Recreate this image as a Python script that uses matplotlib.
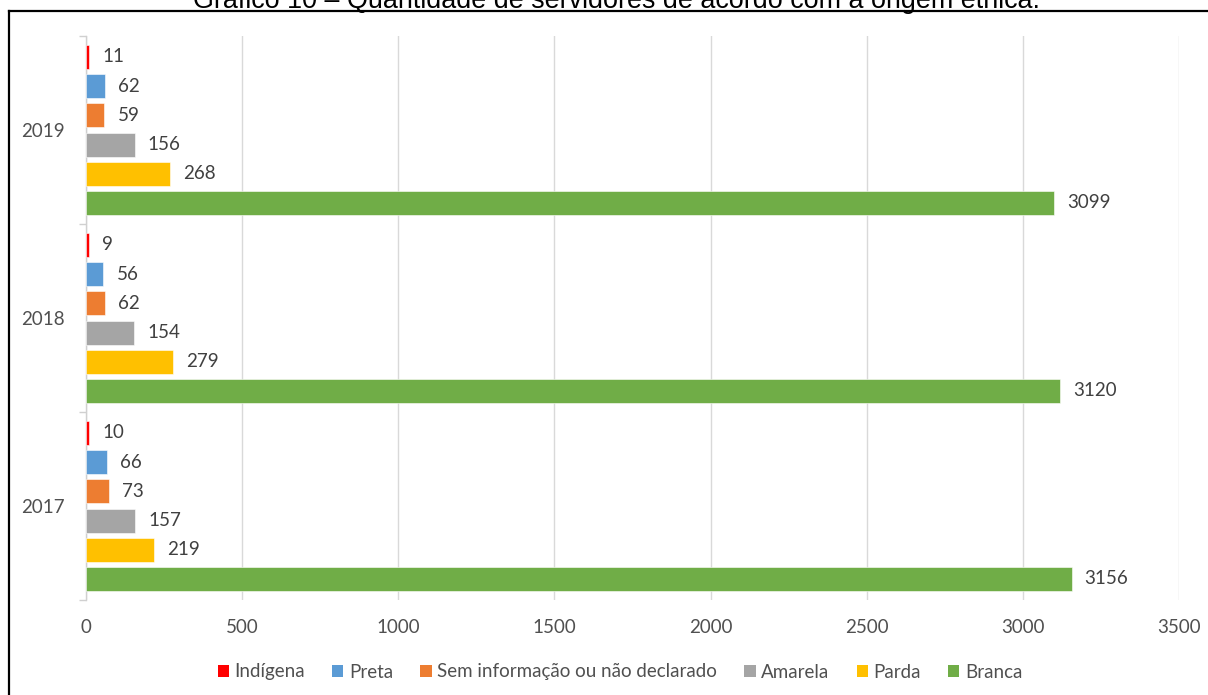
import matplotlib
matplotlib.use("Agg")
import matplotlib.pyplot as plt
from matplotlib.lines import Line2D
from matplotlib.patches import Patch
import numpy as np

years = ["2017", "2018", "2019"]
groups = ["Indígena", "Preta", "Sem informação ou não declarado", "Amarela", "Parda", "Branca"]
colors = ["#FF0000", "#5B9BD5", "#ED7D31", "#A5A5A5", "#FFC000", "#70AD47"]
indigena = [10, 9, 11]
preta = [66, 56, 62]
sem_info = [73, 62, 59]
amarela = [157, 154, 156]
parda = [219, 279, 268]
branca = [3156, 3120, 3099]
series = [indigena, preta, sem_info, amarela, parda, branca]
x_ticks = [0, 500, 1000, 1500, 2000, 2500, 3000, 3500]

W, H = 1208, 695
fig = plt.figure(figsize=(W / 100, H / 100), dpi=100)
ax = fig.add_axes([86 / W, 1 - 600 / H, (1179 - 86) / W, (600 - 36) / H])

font = "Lato"
label_color = "#505050"
fs = 13.5
slot = 29.2 / 188
bar_h = 24 / 188
ypos = np.arange(len(years))

for k, (name, vals, col) in enumerate(zip(groups, series, colors)):
    y = ypos + (2.5 - k) * slot
    ax.barh(y, vals, height=bar_h, color=col, edgecolor="white", linewidth=0.4, zorder=3)
    for yi, v in zip(y, vals):
        ax.annotate(str(v), (v, yi), xytext=(13, 0), textcoords="offset pixels",
                    va="center", ha="left", fontsize=fs, family=font, color="#404040")

ax.set_xlim(0, 3500)
ax.set_ylim(-0.5, 2.5)
ax.set_xticks(x_ticks)
ax.set_xticklabels([str(t) for t in x_ticks], family=font, fontsize=fs, color=label_color)
ax.tick_params(axis="x", length=0, pad=14)
ax.grid(axis="x", color="#d9d9d9", linewidth=1.0, zorder=0)

ax.set_yticks([-0.5, 0.5, 1.5, 2.5])
ax.set_yticklabels([])
ax.set_yticks(ypos, minor=True)
ax.set_yticklabels(years, minor=True, family=font, fontsize=fs, color=label_color)
ax.tick_params(axis="y", which="major", length=5, color="#d0d0d0", width=1)
ax.tick_params(axis="y", which="minor", length=0, pad=15)

for s in ["top", "right", "bottom"]:
    ax.spines[s].set_visible(False)
ax.spines["left"].set_color("#d0d0d0")
ax.spines["left"].set_linewidth(1.0)

handles = [Patch(facecolor=c, edgecolor="none") for c in colors]
leg = fig.legend(handles, groups, loc="center", bbox_to_anchor=(620 / W, 1 - 672 / H),
                 ncol=6, frameon=False, handlelength=0.6, handleheight=0.6,
                 handletextpad=0.3, columnspacing=1.45,
                 prop={"family": font, "size": fs})
for t in leg.get_texts():
    t.set_color(label_color)

# frame lines around the chart block
fig.add_artist(Line2D([8.5 / W, 8.5 / W], [0, 1 - 11 / H], color="black", linewidth=1.6,
                      transform=fig.transFigure))
fig.add_artist(Line2D([8.5 / W, 1], [1 - 11 / H, 1 - 11 / H], color="black", linewidth=1.6,
                      transform=fig.transFigure))

fig.text(616 / W, 1 - 8.5 / H,
         "Gráfico 10 – Quantidade de servidores de acordo com a origem étnica.",
         ha="center", va="baseline", family="Liberation Sans", fontsize=19.4, color="black")

fig.savefig("out.png", dpi=100)
